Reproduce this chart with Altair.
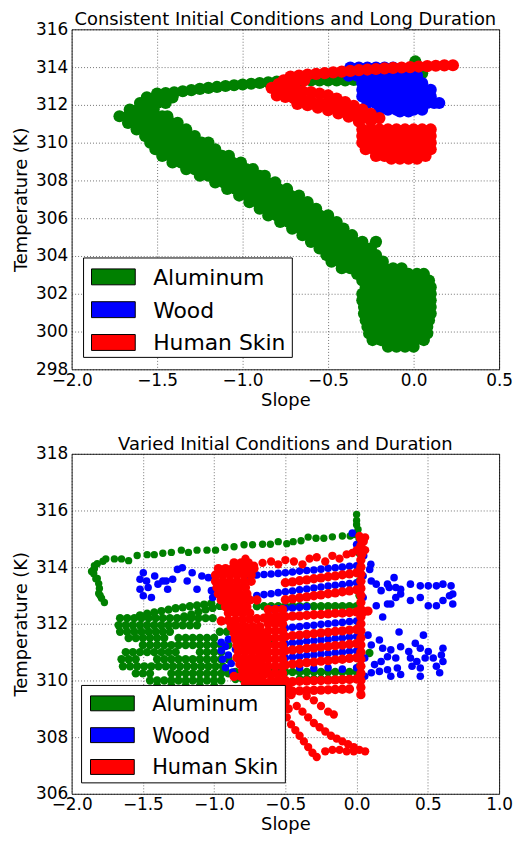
import altair as alt
import pandas as pd

# ---------------- styling constants ----------------
GREEN, BLUE, RED = "#008000", "#0000ff", "#ff0000"
MATERIALS = ["Aluminum", "Wood", "Human Skin"]
COLORS = [GREEN, BLUE, RED]
TITLES = ["Consistent Initial Conditions and Long Duration",
          "Varied Initial Conditions and Duration"]
X_TITLE = "Slope"
Y_TITLE = "Temperature (K)"
TOP_X_TICKS = [-2.0, -1.5, -1.0, -0.5, 0.0, 0.5]
TOP_Y_TICKS = [298, 300, 302, 304, 306, 308, 310, 312, 314, 316]
BOT_X_TICKS = [-2.0, -1.5, -1.0, -0.5, 0.0, 0.5, 1.0]
BOT_Y_TICKS = [306, 308, 310, 312, 314, 316, 318]

# ---------------- TOP panel data ----------------
# rows: (temperature, [slopes...])
TOP_AL_ROWS = [
    (299.2, [-0.15, -0.10, -0.05, 0.00]),
    (299.55, [-0.24, -0.19, -0.14, -0.09, -0.04, 0.01, 0.06]),
    (299.9, [-0.26, -0.21, -0.16, -0.11, -0.06, -0.01, 0.04, 0.08]),
    (300.25, [-0.27, -0.22, -0.17, -0.12, -0.07, -0.02, 0.03, 0.08]),
    (300.6, [-0.28, -0.23, -0.18, -0.13, -0.08, -0.03, 0.02, 0.07, 0.09]),
    (300.95, [-0.29, -0.24, -0.19, -0.14, -0.09, -0.04, 0.01, 0.06, 0.10]),
    (301.3, [-0.29, -0.24, -0.19, -0.14, -0.09, -0.04, 0.01, 0.06, 0.10]),
    (301.65, [-0.30, -0.25, -0.20, -0.15, -0.10, -0.05, 0.00, 0.05, 0.10]),
    (302.0, [-0.30, -0.25, -0.20, -0.15, -0.10, -0.05, 0.00, 0.05, 0.10]),
    (302.35, [-0.28, -0.23, -0.18, -0.13, -0.08, -0.03, 0.02, 0.07, 0.10]),
    (302.7, [-0.30, -0.25, -0.20, -0.15, -0.10, -0.05, 0.00, 0.05, 0.09]),
    (303.05, [-0.33, -0.28, -0.23, -0.18, -0.13, -0.08, -0.03, 0.02, 0.06]),
    (303.35, [-0.42, -0.37, -0.32, -0.27, -0.22, -0.17, -0.12, -0.07]),
    (303.7, [-0.48, -0.43, -0.38, -0.33, -0.28, -0.23, -0.18]),
    (304.05, [-0.51, -0.46, -0.41, -0.36, -0.31, -0.26, -0.22]),
    (304.4, [-0.55, -0.50, -0.45, -0.40, -0.35, -0.30, -0.25]),
    (304.75, [-0.60, -0.55, -0.50, -0.45, -0.40, -0.35, -0.30, -0.22]),
    (305.1, [-0.65, -0.60, -0.55, -0.50, -0.45, -0.40, -0.36]),
    (305.45, [-0.71, -0.66, -0.61, -0.56, -0.51, -0.46, -0.41]),
    (305.8, [-0.78, -0.73, -0.68, -0.63, -0.58, -0.53, -0.48, -0.45]),
    (306.15, [-0.85, -0.80, -0.75, -0.70, -0.65, -0.60, -0.55, -0.50]),
    (306.5, [-0.90, -0.85, -0.80, -0.75, -0.70, -0.65, -0.60, -0.57]),
    (306.85, [-0.96, -0.91, -0.86, -0.81, -0.76, -0.71, -0.66, -0.62]),
    (307.2, [-1.02, -0.97, -0.92, -0.87, -0.82, -0.77, -0.72, -0.67]),
    (307.55, [-1.09, -1.04, -0.99, -0.94, -0.89, -0.84, -0.79, -0.74]),
    (307.9, [-1.16, -1.11, -1.06, -1.01, -0.96, -0.91, -0.86, -0.81]),
    (308.25, [-1.25, -1.20, -1.15, -1.10, -1.05, -1.00, -0.95, -0.90, -0.87]),
    (308.6, [-1.33, -1.28, -1.23, -1.18, -1.13, -1.08, -1.03, -0.98, -0.94]),
    (308.95, [-1.41, -1.36, -1.31, -1.26, -1.21, -1.16, -1.11, -1.06, -1.01]),
    (309.3, [-1.47, -1.42, -1.37, -1.32, -1.27, -1.22, -1.17, -1.12, -1.08]),
    (309.65, [-1.51, -1.46, -1.41, -1.36, -1.31, -1.26, -1.21, -1.16]),
    (310.0, [-1.54, -1.49, -1.44, -1.39, -1.34, -1.29, -1.24, -1.20]),
    (310.35, [-1.57, -1.52, -1.47, -1.42, -1.37, -1.32, -1.28]),
    (310.7, [-1.62, -1.57, -1.52, -1.47, -1.42, -1.37, -1.33]),
    (311.05, [-1.67, -1.62, -1.57, -1.52, -1.47, -1.42, -1.38]),
    (311.4, [-1.72, -1.67, -1.62, -1.57, -1.52, -1.47, -1.44]),
    (311.75, [-1.66, -1.61, -1.56, -1.52]),
    (312.1, [-1.60, -1.55, -1.50, -1.45]),
    (312.4, [-1.56, -1.51, -1.46, -1.41]),
]
TOP_AL_ARM = [
    (-1.50, 312.60), (-1.45, 312.62), (-1.40, 312.66), (-1.35, 312.72), (-1.30, 312.78),
    (-1.25, 312.85), (-1.20, 312.90), (-1.15, 312.95), (-1.10, 313.00), (-1.05, 313.04),
    (-1.00, 313.08), (-0.95, 313.12), (-0.90, 313.16), (-0.85, 313.20), (-0.80, 313.23),
    (-0.75, 313.26), (-0.70, 313.28), (-0.65, 313.30), (-0.60, 313.30), (-0.55, 313.30),
    (-0.50, 313.30), (-0.45, 313.30), (-0.40, 313.30), (-0.35, 313.32), (-0.30, 313.36),
    (-0.25, 313.40), (-0.20, 313.44), (-0.15, 313.50), (-0.10, 313.55), (-0.05, 313.58),
    (0.00, 313.62), (0.05, 313.68), (0.00, 313.95), (0.01, 314.30),
]
TOP_WOOD_ROWS = [
    (313.98, [-0.37, -0.32, -0.27, -0.22, -0.17, -0.12]),
    (313.55, [-0.38, -0.33, -0.28, -0.23, -0.18, -0.13, -0.08, -0.03, 0.02]),
    (313.15, [-0.30, -0.25, -0.20, -0.15, -0.10, -0.05, 0.00, 0.05]),
    (312.8, [-0.30, -0.25, -0.20, -0.15, -0.10, -0.05, 0.00, 0.05, 0.10]),
    (312.45, [-0.30, -0.25, -0.20, -0.15, -0.10, -0.05, 0.00, 0.05, 0.10]),
    (312.1, [-0.27, -0.22, -0.17, -0.12, -0.07, -0.02, 0.03, 0.08, 0.12, 0.15]),
    (311.75, [-0.20, -0.15, -0.10, -0.05, 0.00, 0.05]),
    (311.65, [-0.08, -0.03]),
]
TOP_SKIN_UPPER = [
    (-0.72, 313.50), (-0.67, 313.55), (-0.62, 313.60), (-0.57, 313.64), (-0.52, 313.68),
    (-0.47, 313.72), (-0.42, 313.76), (-0.37, 313.80), (-0.32, 313.84), (-0.27, 313.87),
    (-0.22, 313.90), (-0.17, 313.93), (-0.12, 313.96), (-0.07, 313.98), (-0.02, 314.00),
    (0.03, 314.03), (0.08, 314.05), (0.13, 314.07), (0.18, 314.09), (0.23, 314.10),
    (-0.83, 312.90), (-0.79, 313.10), (-0.76, 313.30), (-0.74, 313.05), (-0.69, 313.20),
    (-0.64, 313.30), (-0.70, 312.95),
]
TOP_SKIN_LOWER = [
    (-0.80, 312.85), (-0.75, 312.80), (-0.70, 312.75), (-0.65, 312.72), (-0.60, 312.68),
    (-0.55, 312.60), (-0.50, 312.50), (-0.45, 312.33), (-0.40, 312.15), (-0.35, 311.95),
    (-0.30, 311.75), (-0.25, 311.52), (-0.20, 311.30),
    (-0.80, 312.50), (-0.75, 312.42), (-0.70, 312.35), (-0.65, 312.28), (-0.60, 312.20),
    (-0.55, 312.10), (-0.50, 312.00), (-0.45, 311.85), (-0.40, 311.70), (-0.35, 311.50),
    (-0.30, 311.30), (-0.25, 311.15),
    (-0.68, 312.05), (-0.62, 311.98), (-0.56, 311.85), (-0.50, 311.72), (-0.44, 311.55),
    (-0.38, 311.38), (-0.32, 311.12),
]
TOP_SKIN_ROWS = [
    (310.7, [-0.30, -0.25, -0.20, -0.15, -0.10, -0.05, 0.00, 0.05, 0.10]),
    (310.35, [-0.30, -0.25, -0.20, -0.15, -0.10, -0.05, 0.00, 0.05, 0.10]),
    (310.0, [-0.30, -0.25, -0.20, -0.15, -0.10, -0.05, 0.00, 0.05, 0.10]),
    (309.65, [-0.28, -0.23, -0.18, -0.13, -0.08, -0.03, 0.02, 0.07, 0.10]),
    (309.3, [-0.22, -0.17, -0.12, -0.07, -0.02, 0.03, 0.07]),
    (309.15, [-0.13, -0.08, -0.03, 0.02]),
]

# ---------------- BOTTOM panel data ----------------
BOT_AL_ARC = [
    (0.00, 315.86), (0.00, 315.65), (0.00, 315.50), (0.01, 315.33), (-0.02, 315.15),
    (-0.045, 315.10), (-0.10, 315.10), (-0.17, 315.07), (-0.23, 315.02), (-0.285, 315.02),
    (-0.34, 315.06), (-0.39, 314.93), (-0.445, 314.90), (-0.49, 314.83), (-0.55, 314.90),
    (-0.605, 314.81), (-0.66, 314.81), (-0.73, 314.79), (-0.79, 314.79), (-0.86, 314.72),
    (-0.925, 314.70), (-0.99, 314.60), (-1.05, 314.60), (-1.12, 314.60), (-1.18, 314.52),
    (-1.23, 314.60), (-1.30, 314.52), (-1.36, 314.49), (-1.42, 314.44), (-1.47, 314.44),
    (-1.54, 314.41), (-1.60, 314.23), (-1.65, 314.29), (-1.70, 314.29), (-1.76, 314.29),
    (-1.78, 314.21), (-1.82, 314.12), (-1.84, 313.94), (-1.845, 313.77), (-1.83, 313.59),
    (-1.81, 313.42), (-1.805, 313.25), (-1.81, 313.07), (-1.79, 312.90), (-1.77, 312.75),
    (-1.86, 313.85), (-1.84, 314.05), (-1.82, 313.60), (-1.80, 313.00),
]
BOT_AL_SLOPES = [
    (-1.21, 312.26), (-1.16, 312.33), (-1.11, 312.42), (-1.06, 312.50), (-1.01, 312.56),
    (-0.96, 312.63), (-0.91, 312.70), (-0.86, 312.76), (-0.81, 312.80), (-0.76, 312.82),
    (-1.52, 312.30), (-1.47, 312.36), (-1.42, 312.40), (-1.37, 312.45), (-1.32, 312.50),
    (-1.27, 312.55), (-1.22, 312.58), (-1.17, 312.62), (-1.12, 312.65), (-1.07, 312.68),
    (-1.02, 312.72), (0.09, 310.97),
]
BOT_AL_ROWS = [
    (312.2, [-1.66, -1.61, -1.56, -1.51, -1.46, -1.41, -1.36, -1.31, -1.26, -1.21, -1.16, -1.11, -1.06, -1.01]),
    (311.95, [-1.67, -1.62, -1.57, -1.52, -1.47, -1.42, -1.37, -1.32, -1.27, -1.22, -1.17, -1.12]),
    (311.72, [-1.66, -1.61, -1.56, -1.51, -1.46, -1.41, -1.36, -1.31, -0.96, -0.91, -0.86, -0.81]),
    (311.5, [-1.60, -1.55, -1.50, -1.45, -1.40, -1.35, -1.25, -1.20, -1.15, -1.10, -1.05, -1.00]),
    (311.25, [-1.50, -1.45, -1.40, -1.35, -1.30, -1.25, -1.20, -1.15, -1.10, -1.05, -1.00, -0.95, -0.90]),
    (311.0, [-1.62, -1.57, -1.52, -1.47, -1.42, -1.37, -1.32, -1.27, -1.10, -1.05, -1.00, -0.95]),
    (310.75, [-1.65, -1.60, -1.55, -1.40, -1.35, -1.30, -1.25, -1.20, -1.15, -1.10, -1.05, -1.00, -0.95, -0.90]),
    (310.5, [-1.64, -1.59, -1.54, -1.49, -1.44, -1.39, -1.34, -1.29, -1.24, -1.19, -1.14, -1.09, -1.04, -0.99, -0.94]),
    (310.25, [-1.55, -1.50, -1.45, -1.30, -1.25, -1.20, -1.15, -1.10, -1.05, -1.00, -0.95, -0.90]),
    (310.0, [-1.45, -1.40, -1.35, -1.30, -1.25, -1.20, -1.15, -1.10, -1.05, -1.00, -0.95]),
    (309.8, [-1.40, -1.30, -1.20, -1.10, -1.00]),
    (312.62, [-0.70, -0.65, -0.60, -0.55, -0.50, -0.45, -0.40, -0.35, -0.30, -0.25, -0.20, -0.15, -0.10, -0.05, 0.00]),
    (311.45, [-0.75, -0.70, -0.65, -0.60]),
    (310.3, [-0.85, -0.80, -0.75, -0.70, -0.65, -0.60, -0.55, -0.50, -0.45, -0.40, -0.35, -0.30, -0.25, -0.20, -0.15, -0.10, -0.05, 0.00]),
    (310.05, [-0.85, -0.80, -0.75, -0.70, -0.40, -0.35, -0.30, -0.25, -0.20, -0.15, -0.10, -0.05]),
]
BOT_AL_COLS = [
    (0.02, [310.5, 311.0, 311.5, 312.0, 312.5, 313.0, 313.5, 314.0, 314.5, 315.0]),
]
BOT_WOOD_SCATTER = [
    # left group
    (-1.497, 313.80), (-1.520, 313.57), (-1.474, 313.51), (-1.417, 313.69), (-1.394, 313.40),
    (-1.360, 313.51), (-1.337, 313.51), (-1.291, 313.57), (-1.257, 313.92), (-1.223, 313.98),
    (-1.189, 313.51), (-1.154, 313.80), (-1.086, 313.69), (-1.040, 313.63), (-1.120, 313.22),
    (-1.326, 313.22), (-1.463, 313.28), (-1.520, 313.22), (-1.497, 312.99), (-1.440, 312.93),
    (-1.019, 313.17), (-1.010, 312.93),
    # right upper group
    (0.092, 313.92), (0.046, 313.69), (0.103, 313.51), (0.138, 313.40), (0.172, 313.17),
    (0.217, 313.40), (0.229, 313.28), (0.263, 313.63), (0.275, 313.28), (0.309, 313.22),
    (0.309, 313.05), (0.275, 312.93), (0.240, 312.70), (0.217, 312.70), (0.138, 312.64),
    (0.183, 312.24), (0.378, 313.40), (0.447, 313.34), (0.447, 312.93), (0.378, 312.82),
    (0.503, 313.34), (0.560, 313.34), (0.606, 313.40), (0.663, 313.34), (0.652, 312.99),
    (0.675, 313.05), (0.675, 312.70), (0.606, 312.82), (0.560, 312.64), (0.503, 312.64),
    (0.046, 312.93), (0.298, 311.71),
    # right lower group
    (0.469, 311.60), (0.412, 311.31), (0.160, 311.43), (0.103, 311.25), (0.183, 311.14),
    (0.240, 311.08), (0.309, 311.19), (0.366, 311.02), (0.447, 311.14), (0.503, 311.02),
    (0.606, 311.14), (0.595, 310.90), (0.538, 310.79), (0.481, 310.79), (0.423, 310.67),
    (0.378, 310.79), (0.275, 310.79), (0.217, 310.84), (0.172, 310.67), (0.126, 310.56),
    (0.160, 310.32), (0.217, 310.38), (0.286, 310.44), (0.240, 310.15), (0.309, 310.21),
    (0.389, 310.50), (0.447, 310.44), (0.560, 310.50), (0.583, 310.27), (0.606, 310.67),
    (0.447, 310.15), (0.103, 310.27), (0.057, 310.15), (0.057, 310.79), (0.080, 311.60),
    # left column near -0.9
    (-0.95, 311.35), (-0.92, 311.20), (-0.95, 311.05), (-0.90, 310.90), (-0.94, 310.75),
    (-0.88, 310.60), (-0.92, 310.45), (-0.87, 310.30), (-0.90, 311.45), (-0.85, 311.10),
    # near top
    (-0.03, 315.20), (0.00, 314.80), (0.05, 314.40), (0.10, 314.10),
]
BOT_WOOD_STRIPES = [
    (-0.75, 313.70), (-0.70, 313.72), (-0.65, 313.74), (-0.60, 313.76), (-0.55, 313.78),
    (-0.50, 313.80), (-0.45, 313.83), (-0.40, 313.86), (-0.35, 313.88), (-0.30, 313.90),
    (-0.25, 313.93), (-0.20, 313.96), (-0.15, 313.98), (-0.10, 314.00), (-0.05, 314.03), (0.00, 314.05),
    (-0.70, 313.00), (-0.65, 313.03), (-0.60, 313.06), (-0.55, 313.10), (-0.50, 313.13),
    (-0.45, 313.16), (-0.40, 313.20), (-0.35, 313.23), (-0.30, 313.26), (-0.25, 313.30),
    (-0.20, 313.33), (-0.15, 313.36), (-0.10, 313.39), (-0.05, 313.42), (0.00, 313.45),
    (-0.60, 312.52), (-0.55, 312.53), (-0.50, 312.55), (-0.45, 312.56), (-0.40, 312.58), (-0.35, 312.60),
    (-0.50, 311.85), (-0.45, 311.88), (-0.40, 311.90), (-0.35, 311.93), (-0.30, 311.95),
    (-0.25, 311.98), (-0.20, 312.00), (-0.15, 312.03), (-0.10, 312.05), (-0.05, 312.08), (0.00, 312.10),
    (-0.50, 311.30), (-0.45, 311.33), (-0.40, 311.35), (-0.35, 311.38), (-0.30, 311.40),
    (-0.25, 311.43), (-0.20, 311.45), (-0.15, 311.48), (-0.10, 311.50), (-0.05, 311.53), (0.00, 311.55),
    (-0.50, 310.80), (-0.45, 310.83), (-0.40, 310.85), (-0.35, 310.88), (-0.30, 310.90),
    (-0.25, 310.93), (-0.20, 310.95), (-0.15, 310.98), (-0.10, 311.00), (-0.05, 311.03), (0.00, 311.05),
    (-0.40, 310.45), (-0.30, 310.42), (-0.20, 310.45), (-0.10, 310.40), (0.00, 310.45),
]
BOT_SKIN_STRIPES = [
    (-0.50, 313.45), (-0.45, 313.48), (-0.40, 313.52), (-0.35, 313.55), (-0.30, 313.59), (-0.25, 313.62),
    (-0.20, 313.66), (-0.15, 313.69), (-0.10, 313.73), (-0.05, 313.76), (0.00, 313.80),
    (-0.50, 312.85), (-0.45, 312.88), (-0.40, 312.92), (-0.35, 312.95), (-0.30, 312.99), (-0.25, 313.02),
    (-0.20, 313.06), (-0.15, 313.09), (-0.10, 313.13), (-0.05, 313.16), (0.00, 313.20),
    (-0.95, 312.10), (-0.90, 312.12), (-0.85, 312.13), (-0.80, 312.15), (-0.75, 312.17), (-0.70, 312.18),
    (-0.65, 312.20), (-0.60, 312.22), (-0.55, 312.23), (-0.50, 312.25), (-0.45, 312.27), (-0.40, 312.28),
    (-0.35, 312.30), (-0.30, 312.32), (-0.25, 312.33), (-0.20, 312.35), (-0.15, 312.37), (-0.10, 312.38),
    (-0.05, 312.40), (0.00, 312.42), (0.05, 312.43), (0.08, 312.45),
    (-0.50, 311.55), (-0.45, 311.58), (-0.40, 311.60), (-0.35, 311.63), (-0.30, 311.65), (-0.25, 311.68),
    (-0.20, 311.70), (-0.15, 311.73), (-0.10, 311.75), (-0.05, 311.78), (0.00, 311.80),
    (-0.50, 311.05), (-0.45, 311.08), (-0.40, 311.10), (-0.35, 311.13), (-0.30, 311.15), (-0.25, 311.18),
    (-0.20, 311.20), (-0.15, 311.23), (-0.10, 311.25), (-0.05, 311.28), (0.00, 311.30),
    (-0.50, 310.55), (-0.45, 310.58), (-0.40, 310.60), (-0.35, 310.63), (-0.30, 310.65), (-0.25, 310.68),
    (-0.20, 310.70), (-0.15, 310.73), (-0.10, 310.75), (-0.05, 310.78), (0.00, 310.80),
    (-0.55, 309.95), (-0.50, 309.95), (-0.45, 309.96), (-0.40, 309.97), (-0.35, 309.98), (-0.30, 309.99),
    (-0.25, 310.00), (-0.20, 310.01), (-0.15, 310.02), (-0.10, 310.03), (-0.05, 310.04), (0.00, 310.05),
    (-0.55, 309.60), (-0.50, 309.61), (-0.45, 309.62), (-0.40, 309.63), (-0.35, 309.64), (-0.30, 309.65),
    (-0.25, 309.66), (-0.20, 309.67), (-0.15, 309.68), (-0.10, 309.69), (-0.05, 309.70),
]
BOT_SKIN_ROWS = [
    # left mass
    (314.15, [-0.86, -0.81, -0.76]),
    (313.95, [-0.97, -0.92, -0.87, -0.82, -0.77, -0.72]),
    (313.72, [-0.99, -0.94, -0.89, -0.84, -0.79, -0.74]),
    (313.5, [-0.99, -0.94, -0.89, -0.84, -0.79, -0.74]),
    (313.28, [-0.98, -0.93, -0.88, -0.83, -0.78]),
    (313.06, [-0.97, -0.92, -0.87, -0.82, -0.77]),
    (312.84, [-0.95, -0.90, -0.85, -0.80, -0.75, -0.70]),
    (312.6, [-0.92, -0.87, -0.82, -0.77]),
    (312.38, [-0.90, -0.85, -0.80, -0.75]),
    (311.9, [-0.88, -0.83, -0.78, -0.73, -0.68]),
    (311.68, [-0.86, -0.81, -0.76, -0.71, -0.66]),
    (311.46, [-0.85, -0.80, -0.75, -0.70, -0.65]),
    (311.24, [-0.84, -0.79, -0.74, -0.69, -0.64]),
    (311.02, [-0.83, -0.78, -0.73, -0.68, -0.64]),
    (310.8, [-0.84, -0.79, -0.74, -0.69, -0.64]),
    (310.58, [-0.82, -0.77, -0.72, -0.67]),
    (310.36, [-0.80, -0.75, -0.70, -0.65]),
    (310.14, [-0.86, -0.81, -0.76, -0.71, -0.66]),
    (309.9, [-0.78, -0.73, -0.68, -0.63]),
    # central column
    (312.5, [-0.62, -0.57, -0.52]),
    (312.25, [-0.62, -0.57, -0.52]),
    (312.0, [-0.62, -0.57, -0.52]),
    (311.75, [-0.62, -0.57, -0.52]),
    (311.5, [-0.62, -0.57, -0.52]),
    (311.25, [-0.62, -0.57, -0.52]),
    (311.0, [-0.62, -0.57, -0.52]),
    (310.75, [-0.62, -0.57, -0.52]),
    (310.5, [-0.62, -0.57, -0.52]),
    (310.25, [-0.62, -0.57, -0.52]),
    (310.0, [-0.60, -0.55, -0.50]),
    (309.75, [-0.58, -0.53, -0.48]),
    (309.5, [-0.56, -0.51, -0.46]),
    (309.25, [-0.55, -0.50]),
    (309.0, [-0.53, -0.48]),
]
BOT_SKIN_COLS = [
    (0.03, [309.5, 309.75, 310.0, 310.25, 310.5, 310.75, 311.0, 311.25, 311.5, 311.75, 312.0,
            312.25, 312.5, 312.75, 313.0, 313.25, 313.5, 313.75, 314.0, 314.25, 314.5, 314.75, 315.0]),
]
BOT_SKIN_SCATTER = [
    (-0.78, 314.30), (-0.72, 314.05), (-0.66, 314.15), (-0.60, 314.20), (-0.55, 314.10),
    (-0.50, 314.25), (-0.44, 314.20), (-0.38, 314.10), (-0.33, 314.30), (-0.28, 314.35),
    (-0.22, 314.20), (-0.17, 314.40), (-0.12, 314.30), (-0.07, 314.45), (-0.03, 314.50),
    (0.00, 314.60), (0.03, 314.75), (0.05, 314.90), (0.06, 315.05), (0.02, 315.10),
    (0.04, 314.45), (0.06, 314.60),
    (-0.52, 308.90), (-0.49, 308.70), (-0.46, 308.45), (-0.43, 308.25), (-0.40, 308.05),
    (-0.37, 307.85), (-0.34, 307.65), (-0.31, 307.45), (-0.28, 307.30),
    (-0.42, 309.10), (-0.38, 308.90), (-0.34, 308.70), (-0.30, 308.50), (-0.26, 308.35),
    (-0.22, 308.20), (-0.18, 308.05), (-0.14, 307.95), (-0.10, 307.85), (-0.06, 307.75),
    (-0.02, 307.65), (0.02, 307.55), (0.06, 307.50),
    (-0.22, 307.50), (-0.17, 307.55), (-0.12, 307.55), (-0.07, 307.50), (-0.02, 307.50),
    (-0.35, 309.45), (-0.30, 309.30), (-0.25, 309.10), (-0.20, 308.90), (-0.16, 308.80),
]


def rows(r):
    return [(x, y) for y, xs in r for x in xs]


def cols(c):
    return [(x, y) for x, ys in c for y in ys]


TOP_GROUPS = [
    (rows(TOP_AL_ROWS) + TOP_AL_ARM, GREEN, 150),
    (rows(TOP_WOOD_ROWS), BLUE, 150),
    (TOP_SKIN_UPPER + TOP_SKIN_LOWER + rows(TOP_SKIN_ROWS), RED, 150),
]
BOT_GROUPS = [
    (BOT_AL_ARC, GREEN, 55),
    (BOT_AL_SLOPES + rows(BOT_AL_ROWS) + cols(BOT_AL_COLS), GREEN, 70),
    (BOT_WOOD_SCATTER + BOT_WOOD_STRIPES, BLUE, 58),
    (BOT_SKIN_STRIPES + rows(BOT_SKIN_ROWS) + cols(BOT_SKIN_COLS), RED, 88),
    (BOT_SKIN_SCATTER, RED, 70),
]

FONT = "DejaVu Sans"
PLOT_W = 430
PLOT_H = 342


def panel(groups, title, xticks, yticks, W, H, leg):
    xenc = alt.X("slope:Q", title=X_TITLE,
                 scale=alt.Scale(domain=[xticks[0], xticks[-1]], nice=False, zero=False),
                 axis=alt.Axis(values=xticks, format=".1f", labelPadding=3, titlePadding=3))
    yenc = alt.Y("temp:Q", title=Y_TITLE,
                 scale=alt.Scale(domain=[yticks[0], yticks[-1]], nice=False, zero=False),
                 axis=alt.Axis(values=yticks, format="d", labelPadding=4, titlePadding=5))
    layers = []
    for pts, color, size in groups:
        df = pd.DataFrame(pts, columns=["slope", "temp"])
        layers.append(alt.Chart(df).mark_circle(color=color, size=size, opacity=1)
                      .encode(x=xenc, y=yenc))
    one = pd.DataFrame({"k": [0]})
    layers.append(alt.Chart(one).mark_text(text=title, font=FONT, fontSize=18, align="center",
                                           baseline="alphabetic", color="#000")
                  .encode(x=alt.value(W / 2), y=alt.value(-4)))
    bx0, by0, bx1, by1, sx0, sx1, centers, lx, fs, sh = leg
    layers.append(alt.Chart(one).mark_rect(fill="#fff", stroke="#000", strokeWidth=1)
                  .encode(x=alt.value(bx0), x2=alt.value(bx1), y=alt.value(by0), y2=alt.value(by1)))
    for name, color, cy in zip(MATERIALS, COLORS, centers):
        layers.append(alt.Chart(one).mark_rect(fill=color, stroke="#000", strokeWidth=1)
                      .encode(x=alt.value(sx0), x2=alt.value(sx1),
                              y=alt.value(cy - sh / 2), y2=alt.value(cy + sh / 2)))
        layers.append(alt.Chart(one).mark_text(text=name, font=FONT, fontSize=fs, align="left",
                                               baseline="alphabetic", color="#000")
                      .encode(x=alt.value(lx), y=alt.value(cy + 0.36 * fs)))
    return alt.layer(*layers).properties(width=W, height=H)


top = panel(TOP_GROUPS, TITLES[0], TOP_X_TICKS, TOP_Y_TICKS, PLOT_W, PLOT_H,
            (12, 230, 222, 330, 20, 64, [249, 282, 315], 82, 22, 16))
bot = panel(BOT_GROUPS, TITLES[1], BOT_X_TICKS, BOT_Y_TICKS, PLOT_W, PLOT_H,
            (10, 233, 215, 331, 19, 63, [251, 283, 315], 81, 21, 15))

chart = (
    alt.vconcat(top, bot, spacing=25)
    .properties(padding={"left": 4, "top": 0, "right": 0, "bottom": 0})
    .configure(font=FONT)
    .configure_view(stroke="#222", strokeWidth=1)
    .configure_axis(grid=True, gridDash=[1, 2], gridColor="#000", gridOpacity=0.55, gridWidth=1,
                    domain=False, ticks=False, labelFont=FONT, titleFont=FONT,
                    labelFontSize=17, titleFontSize=18, titleFontWeight="normal",
                    labelColor="#000", titleColor="#000", labelFlush=False, labelOverlap=False,
                    zindex=0)
)
chart.save("out.html", embed_options={"renderer": "svg", "actions": False})
